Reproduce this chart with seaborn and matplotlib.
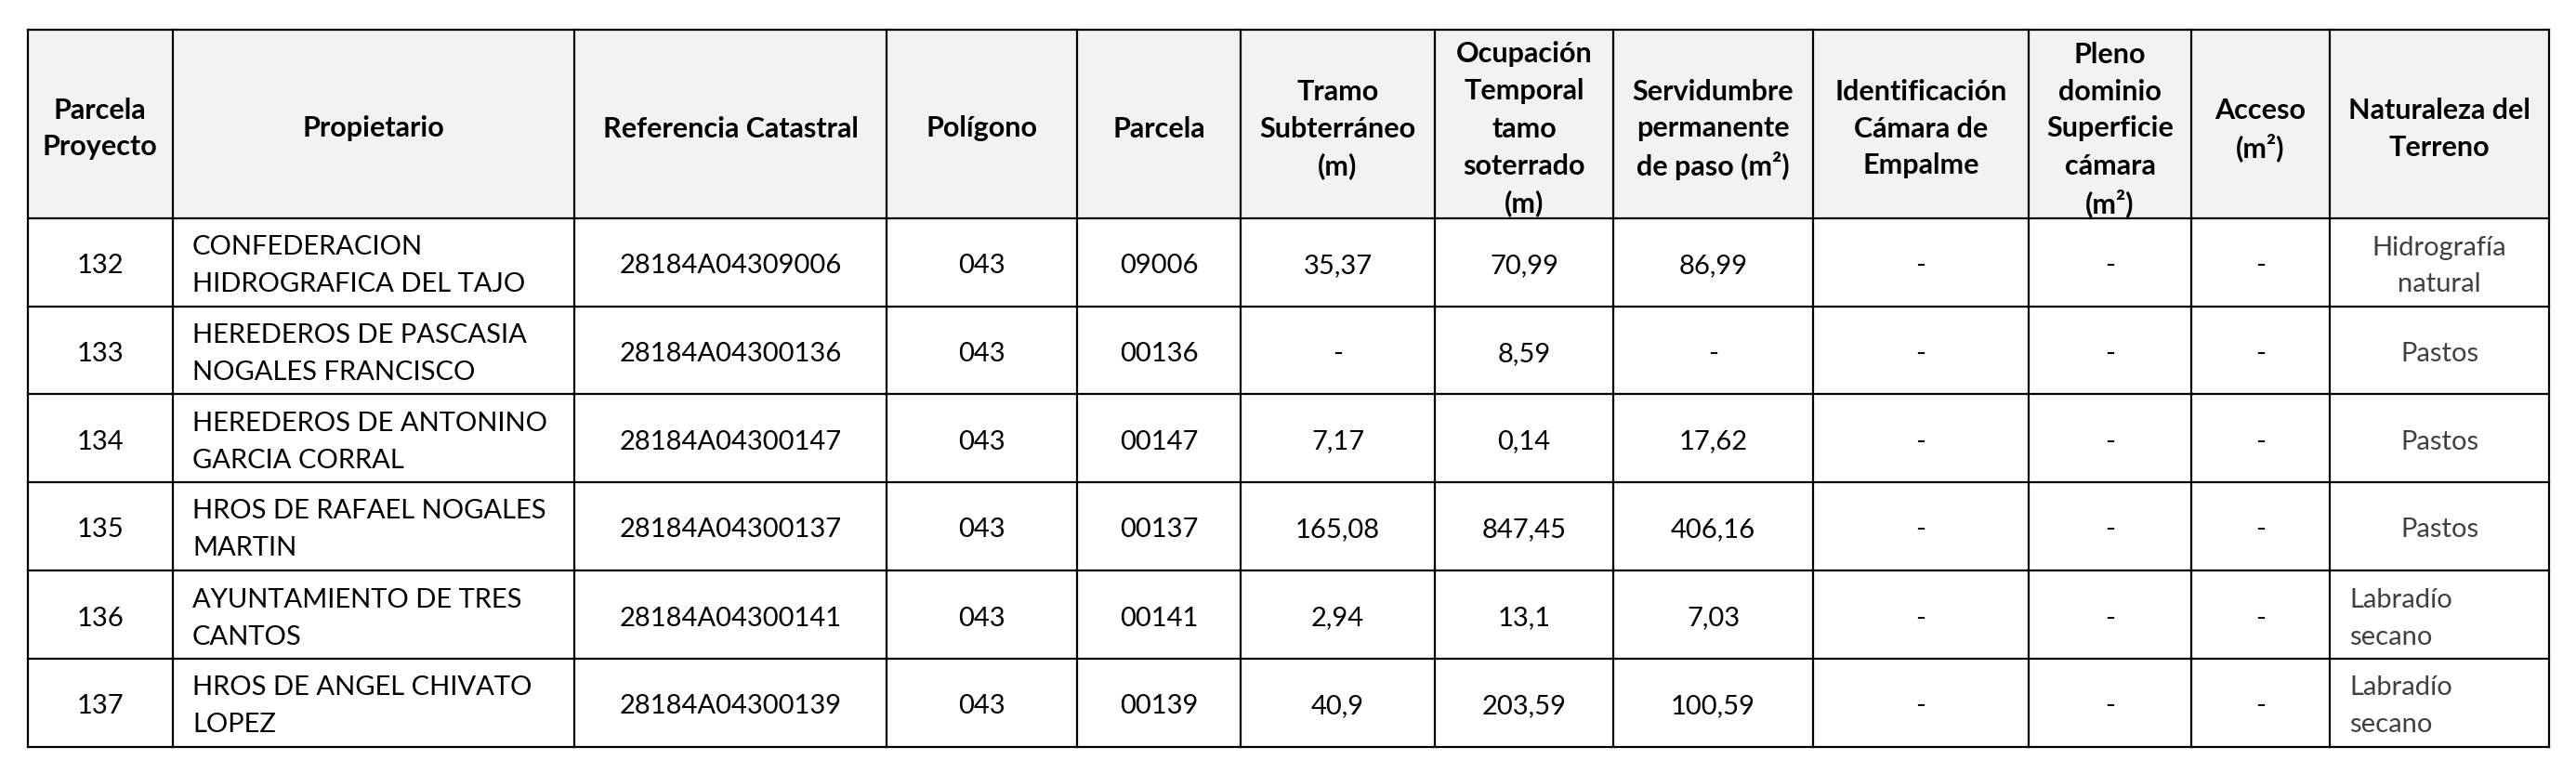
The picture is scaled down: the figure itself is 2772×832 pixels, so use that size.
import seaborn as sns
import matplotlib.pyplot as plt
import matplotlib.patches as mpatches
import pandas as pd

# ---- table content ----
headers = ["Parcela\nProyecto", "Propietario", "Referencia Catastral", "Polígono", "Parcela",
           "Tramo\nSubterráneo\n(m)", "Ocupación\nTemporal\ntamo\nsoterrado\n(m)",
           "Servidumbre\npermanente\nde paso (m²)", "Identificación\nCámara de\nEmpalme",
           "Pleno\ndominio\nSuperficie\ncámara\n(m²)", "Acceso\n(m²)", "Naturaleza del\nTerreno"]

parcela_proyecto = ["132", "133", "134", "135", "136", "137"]
propietario = ["CONFEDERACION\nHIDROGRAFICA DEL TAJO", "HEREDEROS DE PASCASIA\nNOGALES FRANCISCO",
               "HEREDEROS DE ANTONINO\nGARCIA CORRAL", "HROS DE RAFAEL NOGALES\nMARTIN",
               "AYUNTAMIENTO DE TRES\nCANTOS", "HROS DE ANGEL CHIVATO\nLOPEZ"]
referencia = ["28184A04309006", "28184A04300136", "28184A04300147",
              "28184A04300137", "28184A04300141", "28184A04300139"]
poligono = ["043", "043", "043", "043", "043", "043"]
parcela = ["09006", "00136", "00147", "00137", "00141", "00139"]
tramo = ["35,37", "-", "7,17", "165,08", "2,94", "40,9"]
ocupacion = ["70,99", "8,59", "0,14", "847,45", "13,1", "203,59"]
servidumbre = ["86,99", "-", "17,62", "406,16", "7,03", "100,59"]
camara = ["-", "-", "-", "-", "-", "-"]
pleno = ["-", "-", "-", "-", "-", "-"]
acceso = ["-", "-", "-", "-", "-", "-"]
naturaleza = ["Hidrografía\nnatural", "Pastos", "Pastos", "Pastos", "Labradío\nsecano", "Labradío\nsecano"]

df = pd.DataFrame({h: col for h, col in zip(headers, [
    parcela_proyecto, propietario, referencia, poligono, parcela, tramo,
    ocupacion, servidumbre, camara, pleno, acceso, naturaleza])})

# ---- layout (pixels) ----
col_edges = [29.5, 186, 618, 954, 1159, 1335, 1544, 1736, 1951, 2183, 2358, 2507, 2743]
row_edges = [32, 235, 330, 424, 519, 614, 709, 804]
pad = 21
line_gap = 40
nat_align = ["center", "center", "center", "center", "left", "left"]

sns.set_theme(style="white")
plt.rcParams['font.family'] = ['Lato', 'DejaVu Sans']

fig = plt.figure(figsize=(27.72, 8.32), dpi=100)
ax = fig.add_axes([0, 0, 1, 1])
ax.set_xlim(0, 2772)
ax.set_ylim(832, 0)
ax.axis('off')

# header background
ax.add_patch(mpatches.Rectangle((col_edges[0], row_edges[0]), col_edges[-1] - col_edges[0],
                                row_edges[1] - row_edges[0], facecolor='#f2f2f2', edgecolor='none'))


def put_text(x, yc, txt, ha, size, **kw):
    lines = txt.split("\n")
    n = len(lines)
    for k, ln in enumerate(lines):
        y = yc + (k - (n - 1) / 2) * line_gap
        ax.text(x, y, ln, ha=ha, va='center', fontsize=size, **kw)


# header text
for j, h in enumerate(df.columns):
    xc = (col_edges[j] + col_edges[j + 1]) / 2
    yc = (row_edges[0] + row_edges[1]) / 2 + 5
    put_text(xc, yc, h, 'center', 22, fontweight='bold', color='black')

# body text
for i, row in df.reset_index(drop=True).iterrows():
    yc = (row_edges[i + 1] + row_edges[i + 2]) / 2 + 4
    for j, h in enumerate(df.columns):
        val = row[h]
        color = 'black'
        ha = 'center'
        if j == 1:
            ha = 'left'
        if j == len(headers) - 1:
            color = '#404040'
            ha = nat_align[i]
        x = col_edges[j] + pad if ha == 'left' else (col_edges[j] + col_edges[j + 1]) / 2
        put_text(x, yc, val, ha, 21, color=color)

# grid lines
for x in col_edges:
    ax.plot([x, x], [row_edges[0], row_edges[-1]], color='black', lw=1.6, solid_capstyle='projecting')
for y in row_edges:
    ax.plot([col_edges[0], col_edges[-1]], [y, y], color='black', lw=1.6, solid_capstyle='projecting')

fig.savefig("out.png", dpi=100, facecolor='white')
